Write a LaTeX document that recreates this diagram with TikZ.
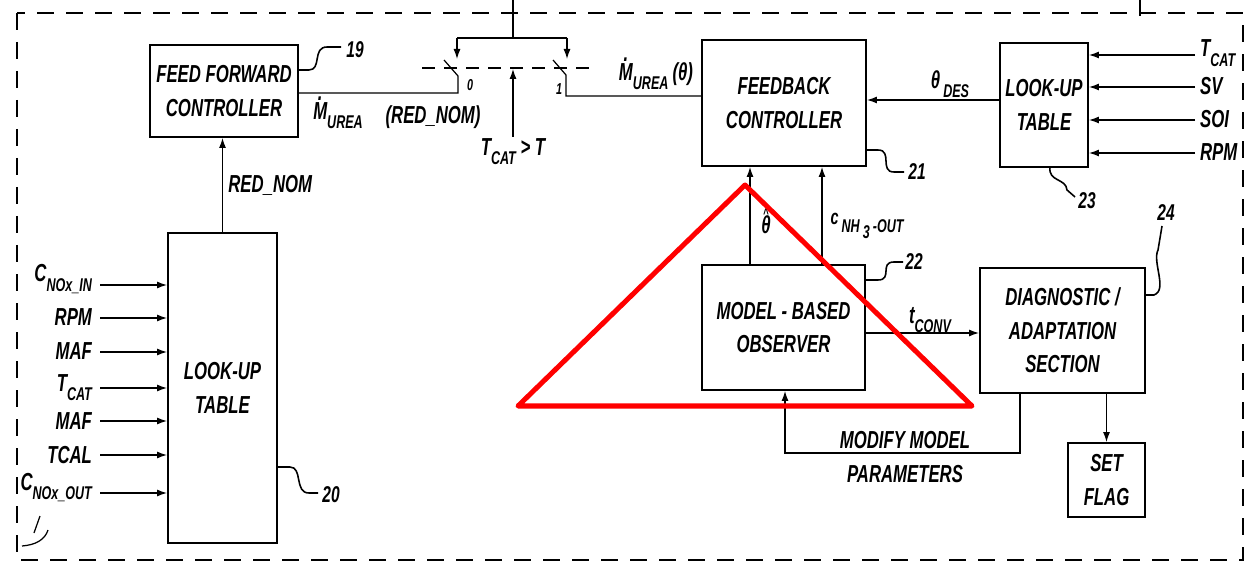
\documentclass[tikz,border=0pt]{standalone}
\usepackage{fontspec}
\setmainfont{Liberation Sans}[FakeStretch=0.68]
\usetikzlibrary{arrows.meta,calc,positioning}
\newcommand{\bx}{\fontsize{14}{19}\selectfont\bfseries\itshape}
\newcommand{\nr}{\fontsize{13}{15}\selectfont\bfseries\itshape}
\newcommand{\lsub}[1]{\raisebox{-0.7ex}{\fontsize{10.5}{11}\selectfont #1}}
\newcommand{\mdotted}{\ooalign{M\cr\hidewidth\raisebox{0.78em}{.}\hidewidth\cr}}
\newcommand{\thhat}{\ooalign{θ\cr\hidewidth\raisebox{0.62em}{\fontsize{8}{8}\selectfont\textasciicircum}\hidewidth\cr}}
\tikzset{
  blk/.style={
    draw,
    line width=1.1pt,
    align=center,
    inner sep=2pt,
    font=\bx
  },
  lbl/.style={
    inner sep=1pt,
    align=center,
    font=\bx
  },
  num/.style={
    inner sep=1pt,
    font=\nr
  },
  wire/.style={
    line width=0.7pt
  },
  arr/.style={
    -{Latex[length=2mm,width=1.4mm]},
    line width=0.7pt
  },
  lead/.style={
    line width=0.9pt
  },
  frame/.style={
    line width=0.9pt,
    dash pattern=on 3.4mm off 2.4mm
  }
}

\begin{document}
\begin{tikzpicture}[x=0.2mm,y=-0.2mm]
\useasboundingbox (0,0) rectangle (1249,570);
% dashed frame
\draw[frame] (17,13) rectangle (1243,560);
\draw[wire] (1140,0) -- (1140,16);

% blocks
\node[blk, minimum width=29.6mm, minimum height=18.4mm] (ffc) at (224,91) {FEED FORWARD\\CONTROLLER};
\node[blk, minimum width=21.8mm, minimum height=62mm] (lutl) at (222.5,388) {LOOK-UP\\TABLE};
\node[blk, minimum width=32.8mm, minimum height=25.2mm] (fbc) at (784,103) {FEEDBACK\\CONTROLLER};
\node[blk, minimum width=17.6mm, minimum height=24.8mm] (lutr) at (1044,105) {LOOK-UP\\TABLE};
\node[blk, minimum width=32.6mm, minimum height=25mm] (obs) at (783.5,327.5) {MODEL - BASED\\OBSERVER};
\node[blk, minimum width=33mm, minimum height=25mm] (diag) at (1062.5,330.5) {DIAGNOSTIC /\\ADAPTATION\\SECTION};
\node[blk, minimum width=15.4mm, minimum height=14.8mm] (flag) at (1106.5,480) {SET\\FLAG};

% inputs of the left look-up table
\foreach \yy/\dy/\txt [count=\i] in {285/-3/{C\lsub{NOx\_IN}}, 318/8/RPM, 352/8/MAF,
    388/3/{T\lsub{CAT}}, 421/8/MAF, 455/8/TCAL, 493/-3/{C\lsub{NOx\_OUT}}}{
  \coordinate (inl\i) at (100,\yy);
  \node[lbl, anchor=base east] (inltxt\i) at (94,\yy+\dy) {\txt};
  \draw[arr] (inl\i) -- (lutl.west |- inl\i);
}

% inputs of the right look-up table
\foreach \yy/\dy/\txt [count=\i] in {55/2/{T\lsub{CAT}}, 87/8/SV, 120/8/SOI, 153/8/RPM}{
  \coordinate (inr\i) at (1195,\yy);
  \node[lbl, anchor=base west] (inrtxt\i) at (1198,\yy+\dy) {\txt};
  \draw[arr] (inr\i) -- (lutr.east |- inr\i);
}

% switch
\coordinate (top) at (513,0);
\coordinate (bar) at (513,38);
\coordinate (c0) at (457,38);
\coordinate (c1) at (567,38);
\coordinate (sw0) at (458,93);
\coordinate (sw1) at (566,96);
\draw[wire] (top) -- (bar);
\draw[wire] (c0) -- (c1);
\draw[arr] (c0) -- ++(0,21);
\draw[arr] (c1) -- ++(0,21);
\draw[wire] (ffc.east |- sw0) -- (sw0) -- (458,76) -- (444,60);
\draw[wire] (fbc.west |- sw1) -- (sw1) -- (566,75) -- (553,60);
\draw[wire, dash pattern=on 2.6mm off 1.8mm] (422,68) -- (592,68);
\node[lbl] (tcat) at (513,152) {T\lsub{CAT} > T};
\draw[arr] (tcat.north) -- (513,69);
\node[num, font=\fontsize{9}{9}\selectfont\bfseries\itshape] (k0) at (470,85) {0};
\node[num, font=\fontsize{9}{9}\selectfont\bfseries\itshape] (k1) at (559,89) {1};
\node[lbl] (murea) at (338,116) {\mdotted\lsub{UREA}};
\node[lbl] (rednom) at (433,117) {(RED\_NOM)};
\node[lbl] (mureath) at (656,76) {\mdotted\lsub{UREA}\,(θ)};

% connectors
\draw[arr] (lutl.north) -- (lutl.north |- ffc.south) node[lbl, midway, right=2pt] {RED\_NOM};
\draw[arr] (lutr.west |- 0,100) -- (fbc.east |- 0,100);
\node[lbl] (thdes) at (950,84) {θ\lsub{\,DES}};
\draw[arr] (obs.north -| 750,0) -- (fbc.south -| 750,0);
\node[lbl] (thhat) at (766,225) {\thhat};
\draw[arr] (obs.north -| 822,0) -- (fbc.south -| 822,0);
\node[lbl, font=\fontsize{12}{14}\selectfont\bfseries\itshape] (cnh) at (867,226) {c\lsub{\,NH\raisebox{-0.6ex}{\,3}\,-OUT}};
\draw[arr] (obs.east |- 0,333) -- (diag.west |- 0,333);
\node[lbl] (tconv) at (930,320) {t\lsub{CONV}};
\coordinate (mod1) at (1020,453);
\coordinate (mod2) at (785,453);
\draw[arr] (diag.south -| mod1) -- (mod1) -- (mod2) -- (obs.south -| mod2);
\node[lbl] (modify) at (905,457) {MODIFY MODEL\\PARAMETERS};
\draw[arr] (diag.south -| flag.north) -- (flag.north);

% reference numerals
\draw[lead] (ffc.east |- 0,70) -- ++(10,0) .. controls (322,70) and (312,47) .. (327,47) -- (341,47);
\node[num] (n19) at (355,50) {19};
\draw[lead] (lutl.east |- 0,467) -- ++(12,0) .. controls (303,467) and (294,493) .. (309,493) -- (318,493);
\node[num] (n20) at (331,495) {20};
\draw[lead] (fbc.east |- 0,150) -- ++(11,0) .. controls (893,150) and (879,172) .. (894,172) -- (904,172);
\node[num] (n21) at (917,172) {21};
\draw[lead] (obs.east |- 0,280) -- ++(12,0) .. controls (893,280) and (879,262) .. (894,262) -- (903,262);
\node[num] (n22) at (914,262) {22};
\draw[lead] (1050,167) .. controls (1048,182) and (1066,178) .. (1067,190) -- (1075,197);
\node[num] (n23) at (1087,201) {23};
\draw[lead] (diag.east |- 0,295) -- ++(8,0) .. controls (1168,290) and (1152,262) .. (1158,250) -- (1162,226);
\node[num] (n24) at (1166,213) {24};
\draw[wire] (34,533) -- (40,516);
\draw[wire] (22,546) .. controls (35,545) and (45,540) .. (48,530);

% red triangle
\draw[red, line width=1mm, line join=round] (745,185) -- (972,406) -- (518,406) -- cycle;
\end{tikzpicture}
\end{document}
